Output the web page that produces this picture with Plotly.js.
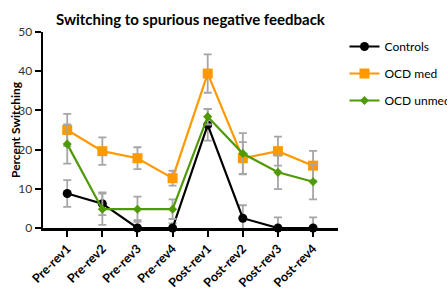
<!DOCTYPE html>
<html>
<head>
<meta charset="utf-8">
<script src="https://cdn.plot.ly/plotly-3.0.1.min.js"></script>
<style>html,body{margin:0;padding:0;background:#fff;}#chart{width:447px;height:289px;}</style>
</head>
<body>
<div id="chart"></div>
<script>
const categories = ["Pre-rev1","Pre-rev2","Pre-rev3","Pre-rev4","Post-rev1","Post-rev2","Post-rev3","Post-rev4"];
const controls = [8.8, 6.2, 0, 0, 26.3, 2.5, 0, 0];
const controlsErr = [3.4, 2.9, 2.0, 1.2, 4.0, 3.3, 2.7, 2.7];
const ocdMed = [25.0, 19.6, 17.8, 12.7, 39.4, 17.8, 19.6, 15.9];
const ocdMedErr = [4.1, 3.5, 2.8, 1.9, 4.9, 4.1, 3.7, 3.8];
const ocdUnmed = [21.4, 4.8, 4.8, 4.8, 28.4, 19.0, 14.2, 11.8];
const ocdUnmedErr = [5.0, 4.0, 3.2, 2.5, 2.0, 5.2, 4.3, 4.5];
const yTicks = [0, 10, 20, 30, 40, 50];

const font = "Lato, 'Open Sans', sans-serif";
function errBar(arr) {
  return {type: 'data', array: arr, visible: true, color: '#a6a6a6', thickness: 1.8, width: 4};
}
const traces = [
  {x: categories, y: controls, name: 'Controls', mode: 'lines+markers', legendgroup: 'a',
   line: {color: '#000000', width: 2.2}, marker: {symbol: 'circle', size: 9, color: '#000000'},
   error_y: errBar(controlsErr), cliponaxis: false},
  {x: categories, y: ocdMed, name: 'OCD med', mode: 'lines+markers', legendgroup: 'b',
   line: {color: '#ff9900', width: 2.2}, marker: {symbol: 'square', size: 10, color: '#ff9900'},
   error_y: errBar(ocdMedErr), cliponaxis: false},
  {x: categories, y: ocdUnmed, name: 'OCD unmed', mode: 'lines+markers', legendgroup: 'c',
   line: {color: '#4f9a06', width: 2.2}, marker: {symbol: 'diamond', size: 7, color: '#4f9a06'},
   error_y: errBar(ocdUnmedErr), cliponaxis: false}
];
const layout = {
  width: 447, height: 289,
  margin: {l: 43, r: 109, t: 32, b: 61, autoexpand: false},
  paper_bgcolor: '#ffffff', plot_bgcolor: '#ffffff',
  font: {family: font, color: '#000'},
  title: {text: '<b>Switching to spurious negative feedback</b>', font: {family: font, size: 15, color: '#000'},
          x: 0.426, xanchor: 'center', y: 0.93, yanchor: 'middle'},
  showlegend: true,
  legend: {x: 1.022, y: 1.0, xanchor: 'left', yanchor: 'top', font: {family: font, size: 12, color: '#000'},
           tracegroupgap: 8, bgcolor: 'rgba(0,0,0,0)'},
  xaxis: {type: 'category', range: [-0.69, 7.71], showgrid: false, zeroline: false,
          showline: true, linecolor: '#000', linewidth: 2.5,
          ticks: 'outside', ticklen: 6, tickwidth: 2, tickcolor: '#000',
          tickangle: -45, tickfont: {family: font, size: 12.5, color: '#000', weight: 'bold'}},
  yaxis: {range: [0, 50], tickvals: yTicks, showgrid: false, zeroline: false,
          showline: true, linecolor: '#000', linewidth: 2.5,
          ticks: 'outside', ticklen: 6, tickwidth: 2, tickcolor: '#000',
          tickfont: {family: font, size: 12, color: '#333'}},
  annotations: [{text: '<b>Percent Switching</b>', textangle: -90, xref: 'paper', yref: 'paper',
                 x: 0, y: 0.5, xanchor: 'center', yanchor: 'middle', xshift: -28, showarrow: false,
                 font: {family: font, size: 12, color: '#000'}}]
};
Plotly.newPlot('chart', traces, layout, {displayModeBar: false, staticPlot: true});
</script>
</body>
</html>
